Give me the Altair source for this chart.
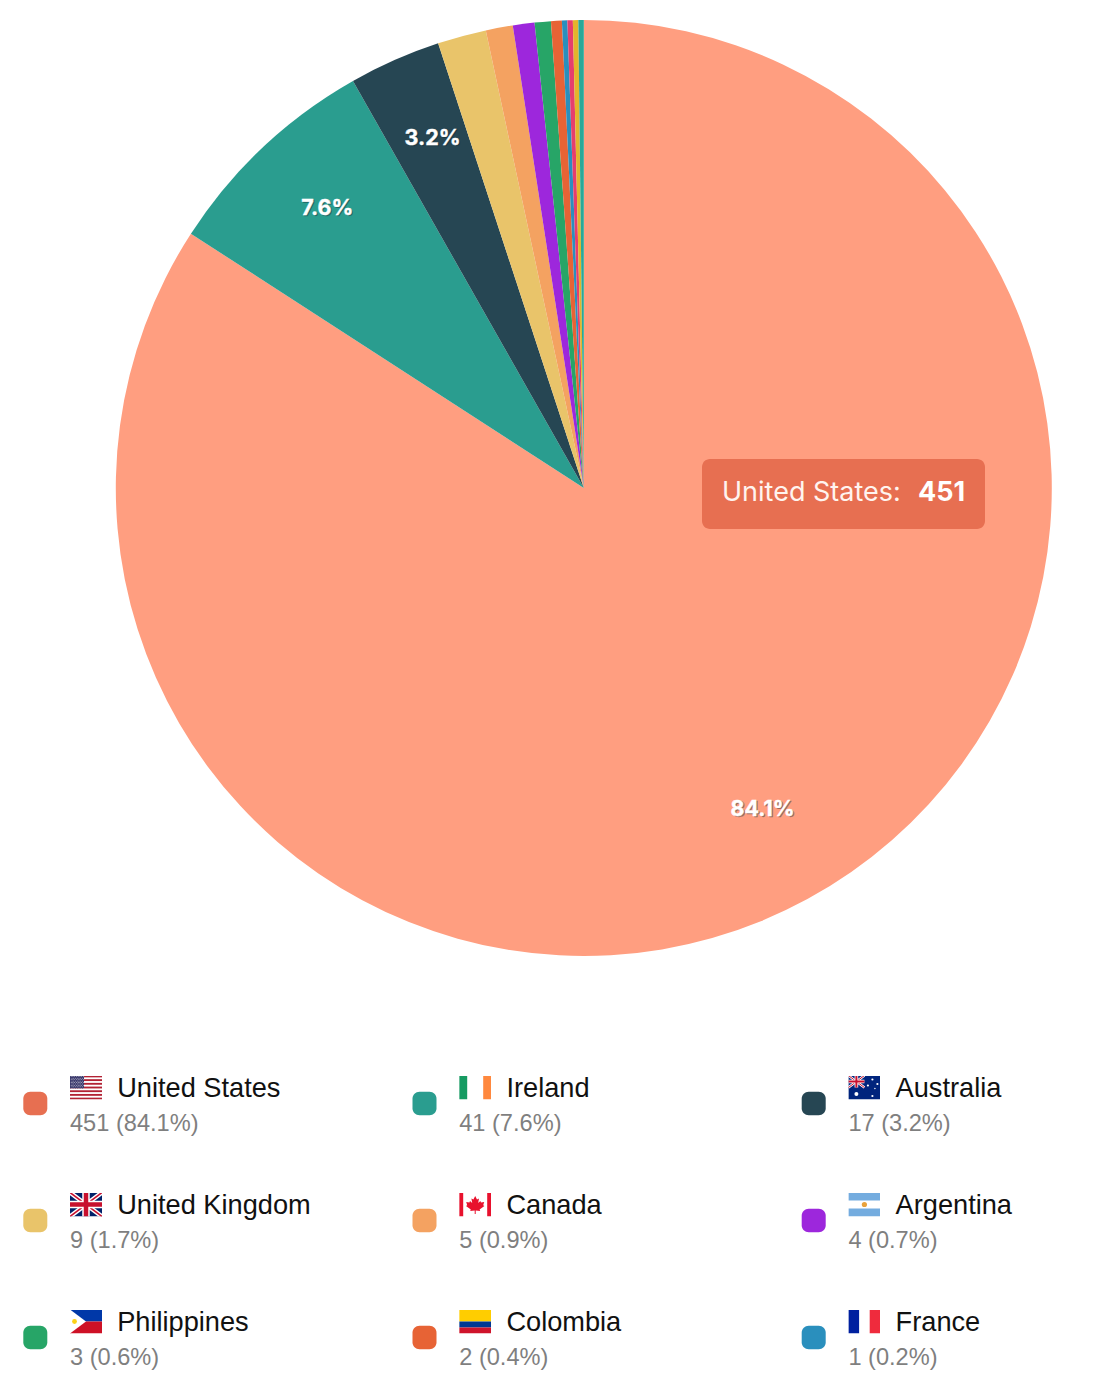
import altair as alt
import pandas as pd
from urllib.parse import quote

names = ["United States", "Ireland", "Australia", "United Kingdom", "Canada", "Argentina",
         "Philippines", "Colombia", "France", "Other A", "Other B", "Other C"]
values = [451, 41, 17, 9, 5, 4, 3, 2, 1, 1, 1, 1]
pct_text = ["84.1%", "7.6%", "3.2%", "1.7%", "0.9%", "0.7%", "0.6%", "0.4%", "0.2%", "0.2%", "0.2%", "0.2%"]
slice_colors = ["#FF9E80", "#2A9D8F", "#264653", "#E9C46A", "#F4A261", "#9D27DC",
                "#27A567", "#E76335", "#2A8FBD", "#E63E6D", "#E3B52C", "#2AA898"]
swatch_colors = ["#E76F51"] + slice_colors[1:]
LEGEND_COUNT = 9
PIE_LABELS = 3


def svg(body):
    s = f'<svg xmlns="http://www.w3.org/2000/svg" width="32" height="24" viewBox="0 0 32 24">{body}</svg>'
    return "data:image/svg+xml;charset=utf-8," + quote(s)


us_stripes = "".join(f'<rect y="{i*24/13:.3f}" width="32" height="{24/13:.3f}" fill="#B22234"/>' for i in range(0, 13, 2))
us_stars = "".join(f'<circle cx="{1.2+c*1.75+(r%2)*0.8:.2f}" cy="{1.2+r*1.45:.2f}" r="0.42" fill="#fff"/>'
                   for r in range(9) for c in range(8 - r % 2))
uj = ('<rect width="32" height="24" fill="#012169"/>'
      '<path d="M0 0L32 24M32 0L0 24" stroke="#fff" stroke-width="4.5"/>'
      '<path d="M0 0L32 24M32 0L0 24" stroke="#C8102E" stroke-width="1.6"/>'
      '<path d="M16 0V24M0 12H32" stroke="#fff" stroke-width="7.5"/>'
      '<path d="M16 0V24M0 12H32" stroke="#C8102E" stroke-width="4.5"/>')
uj_small = ('<path d="M0 0L16 12M16 0L0 12" stroke="#fff" stroke-width="2.4"/>'
            '<path d="M0 0L16 12M16 0L0 12" stroke="#C8102E" stroke-width="1"/>'
            '<path d="M8 0V12M0 6H16" stroke="#fff" stroke-width="3.6"/>'
            '<path d="M8 0V12M0 6H16" stroke="#C8102E" stroke-width="2"/>')
au_stars = "".join(f'<circle cx="{x}" cy="{y}" r="{r}" fill="#fff"/>'
                   for x, y, r in [(8, 18.5, 2), (24, 20.5, 1.1), (24, 4, 1.1), (19.5, 10, 1.1), (29, 8.5, 1.1), (26.5, 13, .7)])
flags = [
    svg(f'<rect width="32" height="24" fill="#fff"/>{us_stripes}<rect width="14" height="{24*7/13:.2f}" fill="#3C3B6E"/>{us_stars}'),
    svg('<rect width="8" height="24" x="0" fill="#169B62"/><rect width="8" height="24" x="24" fill="#FF883E"/>'),
    svg(f'<rect width="32" height="24" fill="#00247D"/>{uj_small}{au_stars}'),
    svg(uj),
    svg('<rect width="4" height="24" fill="#E8112D"/><rect x="28" width="4" height="24" fill="#E8112D"/>'
        '<path d="M16 3.5L17.8 7L19.8 6L19 10.6L21.2 8.4L21.8 10L25 9.5L24 12.8L25.2 13.4L20.4 17L21 18.6L16.5 18.1V21.5H15.5V18.1L11 18.6L11.6 17L6.8 13.4L8 12.8L7 9.5L10.2 10L10.8 8.4L13 10.6L12.2 6L14.2 7Z" fill="#E8112D"/>'),
    svg('<rect width="32" height="8" fill="#74ACDF"/><rect y="16" width="32" height="8" fill="#74ACDF"/>'
        '<circle cx="16" cy="12" r="2.6" fill="#E9A23B"/>'),
    svg('<rect width="32" height="12" fill="#0038A8"/><rect y="12" width="32" height="12" fill="#CE1126"/>'
        '<path d="M0 0L16 12L0 24Z" fill="#fff"/><circle cx="4.5" cy="12" r="2.4" fill="#FCD116"/>'),
    svg('<rect width="32" height="12" fill="#FFCD00"/><rect y="12" width="32" height="6" fill="#003893"/>'
        '<rect y="18" width="32" height="6" fill="#CF142B"/>'),
    svg('<rect width="10.7" height="24" fill="#00209F"/><rect x="21.3" width="10.7" height="24" fill="#EF2B3D"/>'),
]

tooltip_name = "United States:"
tooltip_value = "451"

pie = pd.DataFrame({
    "name": names,
    "value": values,
    "idx": range(len(names)),
    "label": [p if i < PIE_LABELS else "" for i, p in enumerate(pct_text)],
})
legend = pd.DataFrame({
    "name": names[:LEGEND_COUNT],
    "detail": [f"{v} ({p})" for v, p in zip(values, pct_text)][:LEGEND_COUNT],
    "swatch": swatch_colors[:LEGEND_COUNT],
    "flag": flags,
    "col": [i % 3 for i in range(LEGEND_COUNT)],
    "row": [i // 3 for i in range(LEGEND_COUNT)],
})

W, H = 1095, 1384
cx, cy = alt.value(575.8), alt.value(480)
theta = alt.Theta("value:Q", stack=True, scale=alt.Scale(domain=[0, sum(values)], range=[0, 6.283185307]))
order = alt.Order("idx:Q")

arcs = alt.Chart(pie).mark_arc(radius=468).encode(
    x=cx, y=cy, theta=theta, order=order,
    color=alt.Color("name:N", scale=alt.Scale(domain=names, range=slice_colors), legend=None),
)


def pct_layer(color, opacity, off, stroke_w):
    return alt.Chart(pie).mark_text(
        radius=374, font="Inter", fontSize=21.5, fontWeight=700, color=color, opacity=opacity,
        stroke=color, strokeWidth=stroke_w,
        dx=off, dy=off - 7, align="center", baseline="middle",
    ).encode(x=cx, y=cy, theta=theta, order=order, text="label:N")


tip = pd.DataFrame({"name": [tooltip_name], "value": [tooltip_value]})
tip_box = alt.Chart(tip).mark_rect(color="#E76F51", cornerRadius=8).encode(
    x=alt.value(694), x2=alt.value(977), y=alt.value(451), y2=alt.value(521))
tip_name = alt.Chart(tip).mark_text(font="Inter", fontSize=27, color="#FFF4EF", align="left", baseline="alphabetic").encode(
    x=alt.value(714), y=alt.value(493), text="name:N")
tip_val = alt.Chart(tip).mark_text(font="Inter", fontSize=27, fontWeight=700, color="#FFFFFF", align="left", baseline="alphabetic").encode(
    x=alt.value(910), y=alt.value(493), text="value:N")

px = alt.Scale(domain=[0, W], range=[0, W])
py = alt.Scale(domain=[0, H], range=[0, H])
COL, ROW = 389.2, 117
base = alt.Chart(legend).transform_calculate(
    left=f"datum.col*{COL}",
    top=f"datum.row*{ROW}",
)
X = lambda f: alt.X(f, type="quantitative", scale=px, axis=None)
Y = lambda f: alt.Y(f, type="quantitative", scale=py, axis=None)

swatches = base.transform_calculate(a="datum.left+15.3", b="datum.left+39.3", c="datum.top+1083.8", d="datum.top+1107.3").mark_rect(cornerRadius=7).encode(
    x=X("a"), x2=alt.X2("b"), y=Y("c"), y2=alt.Y2("d"),
    color=alt.Color("swatch:N", scale=None),
)
flag_imgs = base.transform_calculate(a="datum.left+62", c="datum.top+1067.5").mark_image(
    width=32, height=24, align="left", baseline="top", aspect=False,
).encode(x=X("a"), y=Y("c"), url="flag:N")
name_txt = base.transform_calculate(a="datum.left+109.2", c="datum.top+1089").mark_text(
    font="Liberation Sans", fontSize=27.2, color="#111111", align="left", baseline="alphabetic",
).encode(x=X("a"), y=Y("c"), text="name:N")
detail_txt = base.transform_calculate(a="datum.left+62", c="datum.top+1123.3").mark_text(
    font="Liberation Sans", fontSize=23.6, color="#7F7F7F", align="left", baseline="alphabetic",
).encode(x=X("a"), y=Y("c"), text="detail:N")

chart = alt.layer(
    arcs, pct_layer("#1a2a30", 0.45, 1.3, 0.3), pct_layer("#FFFFFF", 1, 0, 0.4),
    tip_box, tip_name, tip_val,
    swatches, flag_imgs, name_txt, detail_txt,
).resolve_scale(color="independent").properties(
    width=W, height=H, padding=0, autosize=alt.AutoSizeParams(type="none"), background="#FFFFFF",
).configure_view(stroke=None)

chart.save("out.html", embed_options={"renderer": "svg", "actions": False})
